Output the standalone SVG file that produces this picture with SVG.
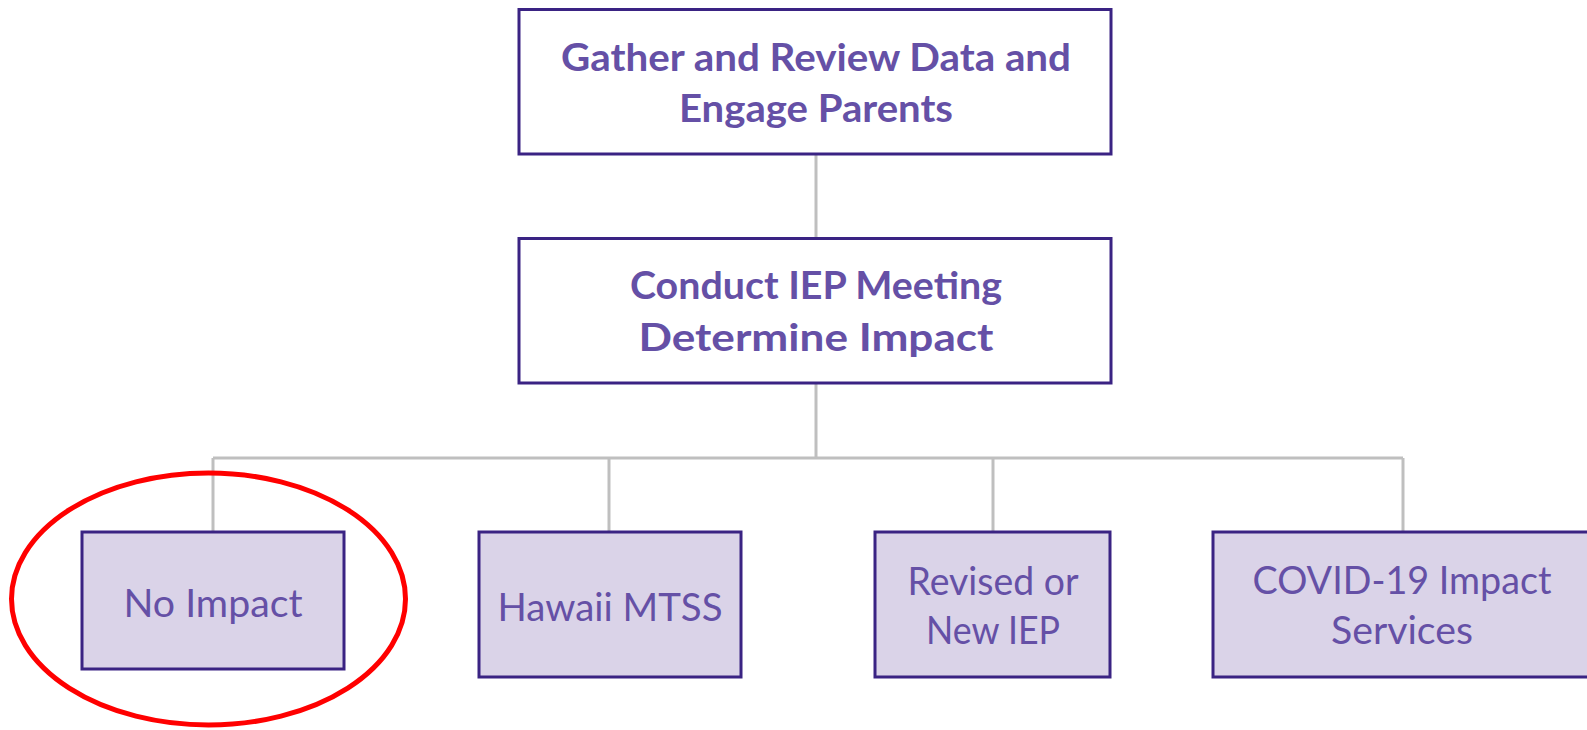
<svg xmlns="http://www.w3.org/2000/svg" width="1587" height="730" viewBox="0 0 1587 730">
<style>
.top rect{fill:#ffffff;stroke:#3a2383;stroke-width:3}
.child rect{fill:#dad3e8;stroke:#3a2383;stroke-width:3}
text{fill:#6550a6;text-anchor:middle;font-family:Lato,"Open Sans","Liberation Sans",sans-serif}
.top text{font-weight:bold;font-size:38px}
.child text{font-size:38px}
.conn{fill:none;stroke:#bfbfbf;stroke-width:3}
</style>
<rect width="1587" height="730" fill="#ffffff"/>
<g id="connectors">
<path class="conn" d="M816 154V238"/>
<path class="conn" d="M816 383V458"/>
<path class="conn" d="M213 458H1403"/>
<path class="conn" d="M213 458V531M609 458V531M993 458V531M1403 458V531"/>
</g>
<g id="gather" class="top">
<rect x="519" y="9.5" width="592" height="144.5"/>
<text x="816" y="70.7" textLength="510" lengthAdjust="spacingAndGlyphs">Gather and Review Data and</text>
<text x="816" y="121.7" textLength="274" lengthAdjust="spacingAndGlyphs">Engage Parents</text>
</g>
<g id="conduct" class="top">
<rect x="519" y="238.5" width="592" height="144.5"/>
<text x="816" y="299" textLength="372" lengthAdjust="spacingAndGlyphs">Conduct IEP Meeting</text>
<text x="816" y="350.7" textLength="355" lengthAdjust="spacingAndGlyphs">Determine Impact</text>
</g>
<g id="no-impact" class="child">
<rect x="82" y="532" width="262" height="137"/>
<text x="213" y="616.7" textLength="179" lengthAdjust="spacingAndGlyphs">No Impact</text>
</g>
<g id="hawaii-mtss" class="child">
<rect x="479" y="532" width="262" height="145"/>
<text x="610" y="621" textLength="225" lengthAdjust="spacingAndGlyphs">Hawaii MTSS</text>
</g>
<g id="revised-iep" class="child">
<rect x="875" y="532" width="235" height="145"/>
<text x="993" y="595" textLength="171" lengthAdjust="spacingAndGlyphs">Revised or</text>
<text x="993" y="644" textLength="134" lengthAdjust="spacingAndGlyphs">New IEP</text>
</g>
<g id="covid-services" class="child">
<rect x="1213" y="532" width="378" height="145"/>
<text x="1402" y="594" textLength="299" lengthAdjust="spacingAndGlyphs">COVID-19 Impact</text>
<text x="1402" y="644" textLength="142" lengthAdjust="spacingAndGlyphs">Services</text>
</g>
<g id="highlight">
<ellipse cx="208.5" cy="599" rx="197" ry="126" fill="none" stroke="#ff0000" stroke-width="5"/>
</g>
</svg>
